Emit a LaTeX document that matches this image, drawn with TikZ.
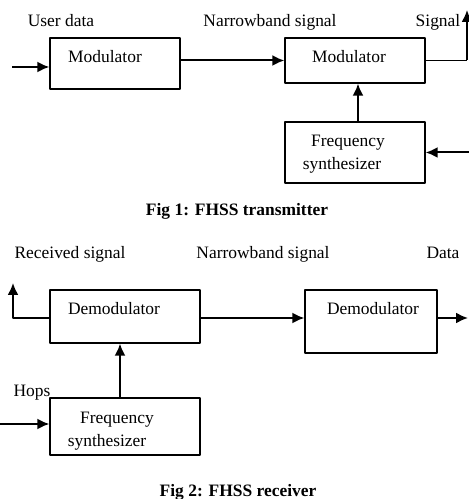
\documentclass[tikz,border=0pt]{standalone}
\usepackage{fontspec}
\setmainfont{Liberation Serif}
\usetikzlibrary{positioning,arrows.meta}

\tikzset{
  blockbox/.style={draw,line width=1.3pt,minimum width=#1,inner sep=0pt},
  txt/.style={draw=none,inner sep=0pt,anchor=base,font=\fontsize{17.5}{20}\selectfont},
  captxt/.style={txt,font=\fontsize{17.5}{20}\selectfont\bfseries},
  sigline/.style={line width=2bp},
}

\begin{document}
\begin{tikzpicture}[>={Latex[length=12bp,width=11bp]},line join=bevel,]
\useasboundingbox (0bp,0bp) rectangle (469bp,499bp);
%% transmitter
\node (mod1) at (115bp,435.5bp) [blockbox=130bp,minimum height=51bp] {};
  \node (mod2) at (355bp,438.5bp) [blockbox=140bp,minimum height=45bp] {};
  \node (syn1) at (355bp,346.5bp) [blockbox=140bp,minimum height=61bp] {};
  \node (lbl_user) at (61bp,472bp) [txt] {User data};
  \node (lbl_nb1) at (270bp,472bp) [txt] {Narrowband signal};
  \node (lbl_sig) at (438bp,472bp) [txt] {Signal};
  \node (txt_mod1) at (105bp,436bp) [txt] {Modulator};
  \node (txt_mod2) at (349bp,436bp) [txt] {Modulator};
  \node (txt_syn1a) at (348bp,352bp) [txt] {Frequency};
  \node (txt_syn1b) at (342bp,329bp) [txt] {synthesizer};
  \node (cap1) at (237bp,283bp) [captxt] {Fig 1: FHSS transmitter};
  \coordinate (in1) at (12bp,432bp);
  \coordinate (sig_out) at (467bp,489bp);
  \coordinate (hop_in1) at (469bp,346.5bp);
  \draw [sigline,->] (in1) -- (in1 -| mod1.west);
  \draw [sigline,->] (mod1.east |- mod2.west) -- (mod2.west);
  \draw [line width=1.3pt] (mod2.east) -- (mod2.east -| sig_out);
  \draw [sigline,->] (mod2.east -| sig_out) -- (sig_out);
  \draw [sigline,->] ([xshift=3bp]syn1.north) -- ([xshift=3bp]mod2.south);
  \draw [sigline,->] (hop_in1) -- (syn1.east);
%% receiver
\node (demod1) at (125bp,182.5bp) [blockbox=150bp,minimum height=53bp] {};
  \node (demod2) at (371bp,177.5bp) [blockbox=132bp,minimum height=63bp] {};
  \node (syn2) at (125bp,72.5bp) [blockbox=150bp,minimum height=57bp] {};
  \node (lbl_rx) at (70bp,240bp) [txt] {Received signal};
  \node (lbl_nb2) at (263bp,240bp) [txt] {Narrowband signal};
  \node (lbl_data) at (443bp,240bp) [txt] {Data};
  \node (lbl_hops) at (32bp,102bp) [txt] {Hops};
  \node (txt_demod1) at (114bp,184bp) [txt] {Demodulator};
  \node (txt_demod2) at (373bp,184bp) [txt] {Demodulator};
  \node (txt_syn2a) at (117bp,75bp) [txt] {Frequency};
  \node (txt_syn2b) at (107bp,52bp) [txt] {synthesizer};
  \node (cap2) at (238bp,3bp) [captxt] {Fig 2: FHSS receiver};
  \coordinate (rx_out) at (13bp,216bp);
  \coordinate (data_out) at (468bp,181bp);
  \coordinate (hop_in2) at (0bp,75bp);
  \draw [sigline,->] (demod1.west |- data_out) -| (rx_out);
  \draw [sigline,->] (demod1.east |- data_out) -- (demod2.west |- data_out);
  \draw [sigline,->] (demod2.east |- data_out) -- (data_out);
  \draw [sigline,->] ([xshift=-5bp]syn2.north) -- ([xshift=-5bp]demod1.south);
  \draw [sigline,->] (hop_in2) -- (hop_in2 -| syn2.west);
%
\end{tikzpicture}
\end{document}
